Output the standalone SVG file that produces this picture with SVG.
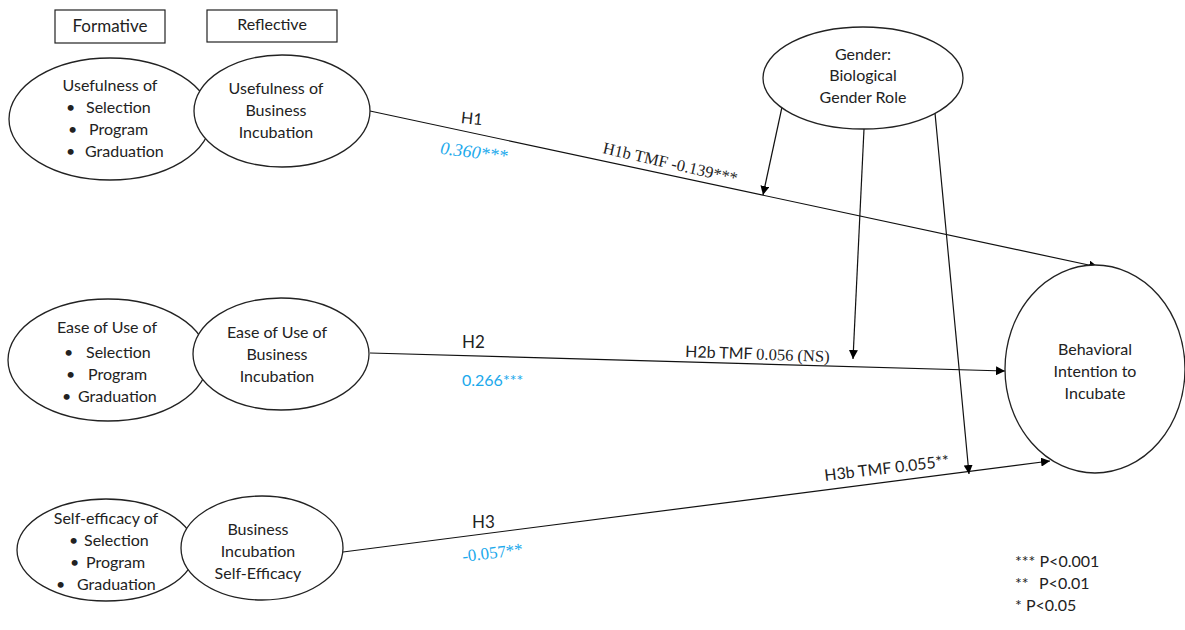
<svg xmlns="http://www.w3.org/2000/svg" width="1185" height="630" viewBox="0 0 1185 630">
  <defs>
    <marker id="arrow" viewBox="0 0 10 10" refX="10" refY="5" markerWidth="9" markerHeight="9" markerUnits="userSpaceOnUse" orient="auto">
      <path d="M0,0 L10,5 L0,10 z" fill="#000"/>
    </marker>
    <style>
      .shape { fill: #fff; stroke: #222; stroke-width: 1.3; }
      .box { fill: #fff; stroke: #222; stroke-width: 1.2; }
      .t { font-family: Lato, "Liberation Sans", sans-serif; font-size: 16px; fill: #222; }
      .c { text-anchor: middle; }
      .serif { font-family: "Liberation Serif", "DejaVu Serif", serif; }
      .coef { fill: #1BA9EC; }
      .link { fill: none; stroke: #111; stroke-width: 1.2; }
    </style>
  </defs>
  <rect width="1185" height="630" fill="#fff"/>

  <!-- legend boxes -->
  <g id="formative-label">
    <rect class="box" x="55" y="10" width="110" height="33"/>
    <text class="t c" x="110" y="32" style="font-size:17px">Formative</text>
  </g>
  <g id="reflective-label">
    <rect class="box" x="207" y="10" width="130" height="32"/>
    <text class="t c" x="272" y="30">Reflective</text>
  </g>

  <!-- connectors -->
  <g id="connectors">
    <line class="link" x1="370" y1="111" x2="1098" y2="267" marker-end="url(#arrow)"/>
    <line class="link" x1="370" y1="353" x2="1005" y2="371" marker-end="url(#arrow)"/>
    <line class="link" x1="343" y1="552" x2="1050" y2="461" marker-end="url(#arrow)"/>
    <line class="link" x1="782" y1="107" x2="763" y2="195" marker-end="url(#arrow)"/>
    <line class="link" x1="864" y1="129" x2="853" y2="359" marker-end="url(#arrow)"/>
    <line class="link" x1="935" y1="113" x2="969" y2="474" marker-end="url(#arrow)"/>
  </g>

  <!-- row 1: usefulness -->
  <g id="usefulness-formative">
    <ellipse class="shape" cx="110" cy="119" rx="101" ry="61"/>
    <text class="t c" x="110" y="91">Usefulness of</text>
    <text class="t" x="66" y="113">•</text><text class="t" x="86" y="113">Selection</text>
    <text class="t" x="68" y="135">•</text><text class="t" x="89" y="135">Program</text>
    <text class="t" x="66" y="157">•</text><text class="t" x="85" y="157">Graduation</text>
  </g>
  <g id="usefulness-reflective">
    <ellipse class="shape" cx="282" cy="111" rx="88" ry="56"/>
    <text class="t c" x="276" y="94">Usefulness of</text>
    <text class="t c" x="276" y="116">Business</text>
    <text class="t c" x="276" y="138">Incubation</text>
  </g>

  <!-- row 2: ease of use -->
  <g id="ease-formative">
    <ellipse class="shape" cx="108" cy="360" rx="100" ry="61"/>
    <text class="t c" x="107" y="333">Ease of Use of</text>
    <text class="t" x="64" y="358">•</text><text class="t" x="86" y="358">Selection</text>
    <text class="t" x="66" y="380">•</text><text class="t" x="88" y="380">Program</text>
    <text class="t" x="62" y="402">•</text><text class="t" x="78" y="402">Graduation</text>
  </g>
  <g id="ease-reflective">
    <ellipse class="shape" cx="281" cy="354" rx="88" ry="56"/>
    <text class="t c" x="277" y="338">Ease of Use of</text>
    <text class="t c" x="277" y="360">Business</text>
    <text class="t c" x="277" y="382">Incubation</text>
  </g>

  <!-- row 3: self-efficacy -->
  <g id="efficacy-formative">
    <ellipse class="shape" cx="106" cy="550" rx="89" ry="51"/>
    <text class="t c" x="106" y="524">Self-efficacy of</text>
    <text class="t" x="69" y="546">•</text><text class="t" x="84" y="546">Selection</text>
    <text class="t" x="70" y="568">•</text><text class="t" x="86" y="568">Program</text>
    <text class="t" x="56" y="590">•</text><text class="t" x="77" y="590">Graduation</text>
  </g>
  <g id="efficacy-reflective">
    <ellipse class="shape" cx="262" cy="548" rx="81" ry="52"/>
    <text class="t c" x="258" y="535">Business</text>
    <text class="t c" x="258" y="557">Incubation</text>
    <text class="t c" x="258" y="579">Self-Efficacy</text>
  </g>

  <!-- moderator -->
  <g id="gender">
    <ellipse class="shape" cx="863" cy="78" rx="100" ry="51"/>
    <text class="t c" x="863" y="60">Gender:</text>
    <text class="t c" x="863" y="81">Biological</text>
    <text class="t c" x="863" y="103">Gender Role</text>
  </g>

  <!-- outcome -->
  <g id="intention">
    <ellipse class="shape" cx="1095" cy="369" rx="90" ry="104"/>
    <text class="t c" x="1095" y="355">Behavioral</text>
    <text class="t c" x="1095" y="377">Intention to</text>
    <text class="t c" x="1095" y="399">Incubate</text>
  </g>

  <!-- path labels -->
  <g id="path-labels">
    <text class="t" x="461" y="124" transform="rotate(6 470 119)">H1</text>
    <text class="serif coef" x="440" y="158" font-size="18" font-style="italic" transform="rotate(7 474 153)">0.360***</text>
    <text class="serif" x="602" y="153" font-size="16.5" fill="#222" transform="rotate(13 602 153)">H1b TMF -0.139***</text>

    <text class="t" x="462" y="348" style="font-size:17px">H2</text>
    <text class="t coef" x="462" y="386">0.266***</text>
    <text class="t" x="685" y="357" transform="rotate(2 685 357)">H2b TMF <tspan class="serif" font-size="16.5">0.056 (NS)</tspan></text>

    <text class="t" x="472" y="528" style="font-size:17px">H3</text>
    <text class="serif coef" x="463" y="562" font-size="17" transform="rotate(-7 463 562)">-0.057**</text>
    <text class="t" x="825" y="481" transform="rotate(-6.7 825 481)">H3b TMF 0.055**</text>
  </g>

  <!-- significance key -->
  <g id="significance-key">
    <text class="t" x="1015" y="567">*** P&lt;0.001</text>
    <text class="t" x="1015" y="589">**<tspan x="1039">P&lt;0.01</tspan></text>
    <text class="t" x="1015" y="611">* P&lt;0.05</text>
  </g>
</svg>
